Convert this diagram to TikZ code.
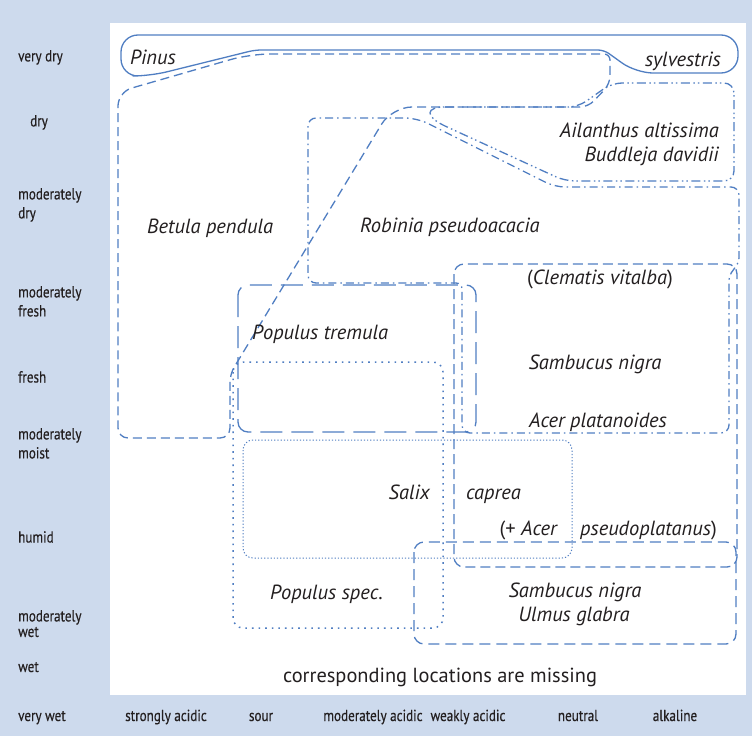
\documentclass[tikz,border=0pt]{standalone}
\usepackage{fontspec}
\setmainfont{PT Sans}
\newfontfamily\condfont[FakeStretch=0.82,FakeBold=0.4]{PT Sans}
\definecolor{bandblue}{RGB}{205,218,237}
\definecolor{zoneblue}{RGB}{80,126,194}
\definecolor{textdark}{RGB}{35,31,32}
\usetikzlibrary{positioning}

\begin{document}
\begin{tikzpicture}[x=1pt, y=-1pt,
  zone/.style={draw=zoneblue, line width=1.3pt, line join=round},
  betulaline/.style={zone, dash pattern=on 9pt off 5pt},
  robinialine/.style={zone, dash pattern=on 8pt off 4pt on 1.5pt off 4pt},
  ailanthusline/.style={zone, dash pattern=on 9pt off 3.5pt on 1.5pt off 3pt on 1.5pt off 3.5pt},
  tremulaline/.style={zone, dash pattern=on 22pt off 9pt},
  clematisline/.style={zone, dash pattern=on 10pt off 5pt},
  ulmusline/.style={zone, dash pattern=on 11pt off 6pt},
  salixline/.style={zone, line width=1pt, dash pattern=on 1.2pt off 2pt},
  specline/.style={zone, line width=1.5pt, dash pattern=on 1.6pt off 5pt},
  species/.style={font=\fontsize{20.5}{24}\selectfont\itshape, text=textdark, inner sep=0pt},
  moist/.style={font=\condfont\fontsize{16}{19}\selectfont, text=textdark, inner sep=0pt, align=left, anchor=north west},
  soil/.style={font=\condfont\fontsize{16}{19}\selectfont, text=textdark, inner sep=0pt, anchor=base}]

\useasboundingbox (0,0) rectangle (752,736);
\fill[bandblue] (0,0) rectangle (752,736);
\fill[white] (110,23) rectangle (746,695);

% moisture scale
\node[moist] (veryDry) at (18,50) {very dry};
\node[moist] (dry) at (30,115) {dry};
\node[moist] (modDry) at (18,188) {moderately\\dry};
\node[moist] (modFresh) at (18,286) {moderately\\fresh};
\node[moist] (fresh) at (18,371) {fresh};
\node[moist] (modMoist) at (18,428) {moderately\\moist};
\node[moist] (humid) at (18,531) {humid};
\node[moist, font=\condfont\fontsize{16}{15.5}\selectfont] (modWet) at (18,610) {moderately\\wet};
\node[moist, anchor=base west] (wet) at (18,672) {wet};
\node[moist, anchor=base west] (veryWet) at (18,721) {very wet};

% soil reaction scale
\node[soil] (strongAcid) at (166,721) {strongly acidic};
\node[soil] (sour) at (261,721) {sour};
\node[soil] (modAcid) at (373,721) {moderately acidic};
\node[soil] (weakAcid) at (468,721) {weakly acidic};
\node[soil] (neutral) at (578,721) {neutral};
\node[soil] (alkaline) at (675,721) {alkaline};

% Pinus sylvestris
\draw[zone] (300,35) [rounded corners=17pt] -- (738,35) -- (738,73) -- (636,73) [rounded corners=6pt] -- (604,50) -- (255,50) [rounded corners=17pt] -- (150,76) -- (121,76) -- (121,35) -- cycle;

% Betula pendula
\draw[betulaline] (118,300) [rounded corners=14pt] -- (118,92) [rounded corners=20pt] -- (250,54) [rounded corners=6pt] -- (610,54) [rounded corners=8pt] -- (610,84) -- (588,107) [rounded corners=20pt] -- (392,107) [rounded corners=8pt] -- (230,374) [rounded corners=10pt] -- (230,438) -- (118,438) -- cycle;

% Robinia pseudoacacia
\draw[robinialine] (308,200) [rounded corners=8pt] -- (308,118) [rounded corners=12pt] -- (417,118) [rounded corners=10pt] -- (555,187) [rounded corners=8pt] -- (739,187) [rounded corners=4pt] -- (739,262) -- (729,276) [rounded corners=8pt] -- (729,433) -- (462,433) [rounded corners=6pt] -- (462,283) [rounded corners=8pt] -- (308,283) -- cycle;

% Ailanthus altissima, Buddleja davidii
\draw[ailanthusline] (445,107) [rounded corners=10pt] -- (578,107) -- (612,83) -- (734,83) -- (734,181) -- (565,181) [sharp corners] -- (445,126) .. controls (424,116) and (426,107) .. cycle;

% Populus tremula
\draw[tremulaline, rounded corners=10pt] (238,285) rectangle (476,432);

% Clematis, Sambucus, Acer platanoides
\draw[clematisline, rounded corners=10pt] (454,264) rectangle (737,567);

% Populus spec.
\draw[specline, rounded corners=10pt] (233,362) rectangle (443,628);

% Salix caprea
\draw[salixline, rounded corners=10pt] (243,440) rectangle (572,558);

% Sambucus nigra, Ulmus glabra
\draw[ulmusline, rounded corners=10pt] (414,542) rectangle (736,644);

% species
\node[species, anchor=base west] (pinus) at (130,64) {Pinus};
\node[species, anchor=base east] (sylvestris) at (721,66) {sylvestris};
\node[species, anchor=base west] (betula) at (147,233) {Betula pendula};
\node[species, anchor=base west] (robinia) at (360,232) {Robinia pseudoacacia};
\node[species, anchor=base east] (ailanthus) at (719,137) {Ailanthus altissima};
\node[species, anchor=base east] (buddleja) at (719,161) {Buddleja davidii};
\node[species, anchor=base west] (tremula) at (252,339) {Populus tremula};
\node[species, anchor=base] (clematis) at (600,284) {{\upshape(}Clematis vitalba{\upshape)}};
\node[species, anchor=base] (sambucusA) at (595,369) {Sambucus nigra};
\node[species, anchor=base] (acerPlat) at (598,427) {Acer platanoides};
\node[species, anchor=base east] (salix) at (430,499) {Salix};
\node[species, anchor=base west] (caprea) at (466,499) {caprea};
\node[species, anchor=base east] (acerPlus) at (557,535) {{\upshape(+} Acer};
\node[species, anchor=base west] (pseudoplat) at (580,535) {pseudoplatanus{\upshape)}};
\node[species, anchor=base] (sambucusB) at (575,597) {Sambucus nigra};
\node[species, anchor=base] (ulmus) at (574,621) {Ulmus glabra};
\node[species, anchor=base west] (populusSpec) at (270,599) {Populus spec.};
\node[font=\fontsize{20.4}{24}\selectfont, text=textdark, inner sep=0pt, anchor=base] (missing) at (440,682) {corresponding locations are missing};
\end{tikzpicture}
\end{document}
